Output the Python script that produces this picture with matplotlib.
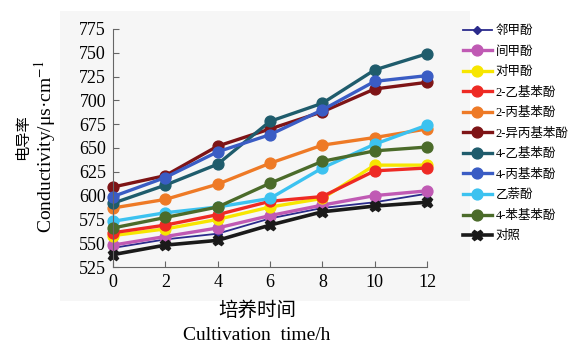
import matplotlib
matplotlib.use('Agg')
import matplotlib.pyplot as plt
from matplotlib.patches import Rectangle

plt.rcParams['font.family'] = ['Liberation Serif', 'Noto Sans CJK SC', 'DejaVu Sans']
plt.rcParams['mathtext.fontset'] = 'stix'

# Cultivation time (h)
hours = [0, 2, 4, 6, 8, 10, 12]

# Conductivity (us/cm) per phenolic compound
o_cresol = [545, 554, 560, 576, 587, 593, 602]
m_cresol = [548, 557, 566, 579, 590, 600, 605]
p_cresol = [558, 565, 575, 588, 597, 632, 632]
ethylphenol_2 = [561, 569, 580, 594, 599, 626, 629]
propylphenol_2 = [587, 596, 612, 634, 653, 661, 670]
isopropylphenol_2 = [609, 621, 652, 670, 688, 712, 719]
ethylphenol_4 = [592, 611, 633, 678, 697, 732, 749]
propylphenol_4 = [599, 619, 646, 664, 690, 720, 726]
naphthol = [573, 582, 588, 597, 629, 654, 674]
phenylphenol_4 = [566, 577, 588, 613, 636, 647, 651]
control = [538, 548, 553, 569, 583, 589, 593]

labels = ['邻甲酚', '间甲酚', '对甲酚', '2-乙基苯酚', '2-丙基苯酚', '2-异丙基苯酚',
          '4-乙基苯酚', '4-丙基苯酚', '乙萘酚', '4-苯基苯酚', '对照']
series = [o_cresol, m_cresol, p_cresol, ethylphenol_2, propylphenol_2, isopropylphenol_2,
          ethylphenol_4, propylphenol_4, naphthol, phenylphenol_4, control]
colors = ['#2b2b8c', '#c05ab4', '#f7e600', '#ee2a24', '#ee7a26', '#7e1416',
          '#1f5c6c', '#3a5cc4', '#3cc2f0', '#4b6b2a', '#1a1a1a']

fig = plt.figure(figsize=(5.78, 3.44), dpi=100)
W, H = 578, 344

# light grey panel behind the axes
fig.patches.append(Rectangle((60 / W, 1 - 301 / H), 410 / W, 290 / H,
                             transform=fig.transFigure, facecolor='#f6f6f6',
                             edgecolor='none', zorder=-10))

ax = fig.add_axes([113 / W, 1 - 267 / H, (427 - 113) / W, (267 - 29) / H])
ax.set_facecolor('none')
ax.set_zorder(5)

for name, vals, c in zip(labels, series, colors):
    if name == '邻甲酚':
        ax.plot(hours, vals, color=c, lw=1.3, marker='D', ms=4, label=name, clip_on=False)
    elif name == '对照':
        ax.plot(hours, vals, color=c, lw=2.6, marker='X', ms=7.5, label=name, clip_on=False)
    else:
        ax.plot(hours, vals, color=c, lw=2.4, marker='o', ms=7.8, label=name, clip_on=False)

ax.set_xlim(0, 12)
ax.set_ylim(525, 775)
ax.set_xticks(hours)
ax.set_yticks(range(525, 776, 25))
ax.tick_params(direction='in', length=4, width=0.8, color='#666666', labelsize=13, pad=5)
for s in ['top', 'right']:
    ax.spines[s].set_visible(False)
for s in ['left', 'bottom']:
    ax.spines[s].set_color('#666666')
    ax.spines[s].set_linewidth(0.8)

# axis titles, Chinese on one line and English on the next
fig.text(23 / W, 1 - 137 / H, '电导率', rotation=90, ha='center', va='center', fontsize=11)
fig.text(45 / W, 1 - 147 / H, r'Conductivity/μs·cm$^{-1}$', rotation=90,
         ha='center', va='center', fontsize=14)
fig.text(257 / W, 1 - 311 / H, '培养时间', ha='center', va='center', fontsize=14)
fig.text(257 / W, 1 - 336 / H, 'Cultivation  time/h', ha='center', va='center', fontsize=14)

ax.legend(loc='upper left', bbox_to_anchor=(463 / W, 1 - 25 / H),
          bbox_transform=fig.transFigure, frameon=False, fontsize=9,
          handlelength=2.3, handletextpad=0.3, labelspacing=0.68,
          borderaxespad=0, borderpad=0)

fig.savefig('out.png', dpi=100)
